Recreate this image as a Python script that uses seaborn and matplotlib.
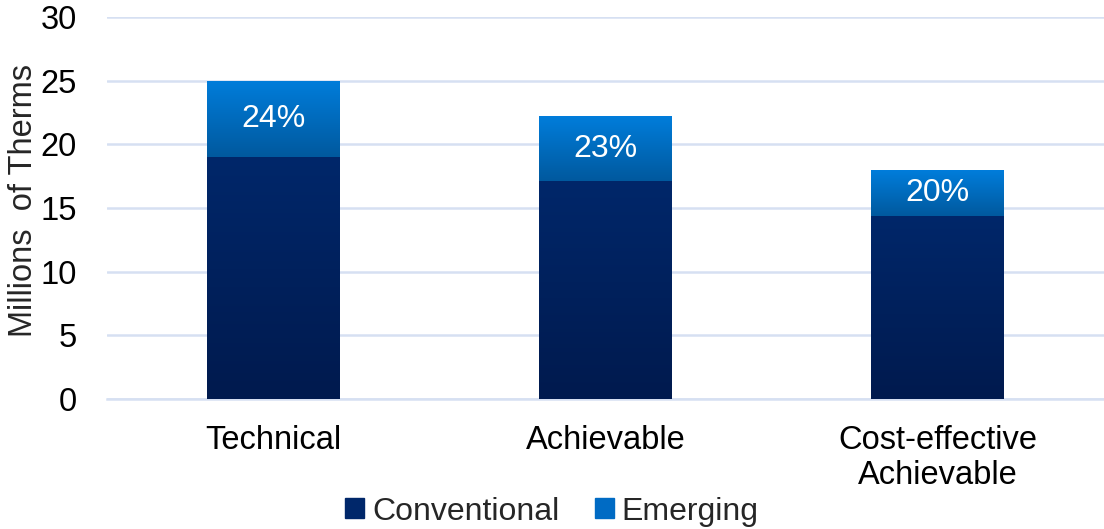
import matplotlib
matplotlib.use("Agg")
import matplotlib.pyplot as plt
import matplotlib.patches as mpatches
import numpy as np
import pandas as pd
import seaborn as sns

# values
categories = ["Technical", "Achievable", "Cost-effective\nAchievable"]
conventional = [19.0, 17.1, 14.4]
emerging = [6.0, 5.1, 3.6]
pct_labels = ["24%", "23%", "20%"]

sns.set_style("white")
plt.rcParams["font.family"] = ["Liberation Sans", "DejaVu Sans"]

df = pd.DataFrame({"cat": categories, "conv": conventional, "emer": emerging})
df["total"] = df["conv"] + df["emer"]

fig = plt.figure(figsize=(11.04, 5.29), dpi=100)
ax = fig.add_axes([0.097, 0.246, 0.903, 0.722])

conv_top, conv_bot = "#00276A", "#001A4E"
emer_top, emer_bot = "#007DDB", "#00599E"

sns.barplot(data=df, x="cat", y="total", color=emer_top, width=0.4, ax=ax,
            saturation=1, linewidth=0, zorder=2)
n_total = len(ax.patches)
sns.barplot(data=df, x="cat", y="conv", color=conv_top, width=0.4, ax=ax,
            saturation=1, linewidth=0, zorder=3)


def add_gradient(patch, top, bottom, z):
    x0, y0 = patch.get_x(), patch.get_y()
    w, h = patch.get_width(), patch.get_height()
    c1 = np.array(matplotlib.colors.to_rgb(bottom))
    c2 = np.array(matplotlib.colors.to_rgb(top))
    t = np.linspace(0, 1, 256)[:, None]
    img = (c1 + (c2 - c1) * t)[:, None, :]
    im = ax.imshow(img, extent=[x0, x0 + w, y0, y0 + h], origin="lower",
                   aspect="auto", zorder=z, interpolation="bilinear")
    im.set_clip_path(patch)


patches = list(ax.patches)
for i, p in enumerate(patches[:n_total]):
    # gradient only over the emerging part
    c = conventional[i]
    seg = mpatches.Rectangle((p.get_x(), c), p.get_width(), p.get_height() - c,
                             transform=ax.transData, visible=False)
    ax.add_patch(seg)
    add_gradient(seg, emer_top, emer_bot, 2.5)
for p in patches[n_total:]:
    add_gradient(p, conv_top, conv_bot, 3.5)

for i in range(len(categories)):
    ax.text(i, conventional[i] + emerging[i] / 2, pct_labels[i], ha="center",
            va="center", color="white", fontsize=23, zorder=5)

ax.set_xlim(-0.5, 2.5)
ax.set_ylim(0, 30)
ax.set_yticks(range(0, 31, 5))
ax.yaxis.grid(True, color="#D6E0F2", linewidth=1.8, zorder=0)
ax.set_axisbelow(True)
for s in ["top", "right", "left"]:
    ax.spines[s].set_visible(False)
ax.spines["bottom"].set_color("#D6E0F2")
ax.spines["bottom"].set_linewidth(1.8)
ax.tick_params(axis="both", length=0, labelsize=23.5, colors="black")
ax.tick_params(axis="y", pad=22)
ax.tick_params(axis="x", pad=18.5)
ax.set_xlabel("")
ax.set_ylabel("Millions  of Therms", fontsize=23.5)
ax.yaxis.set_label_coords(-0.068, 0.52)

handles = [mpatches.Patch(color=conv_top, label="Conventional"),
           mpatches.Patch(color="#006BC4", label="Emerging")]
fig.legend(handles=handles, loc="center", bbox_to_anchor=(0.5, 0.033), ncol=2,
           frameon=False, fontsize=23, handlelength=0.6, handleheight=0.6,
           handletextpad=0.25, columnspacing=1.1)

fig.savefig("out.png", dpi=100)
